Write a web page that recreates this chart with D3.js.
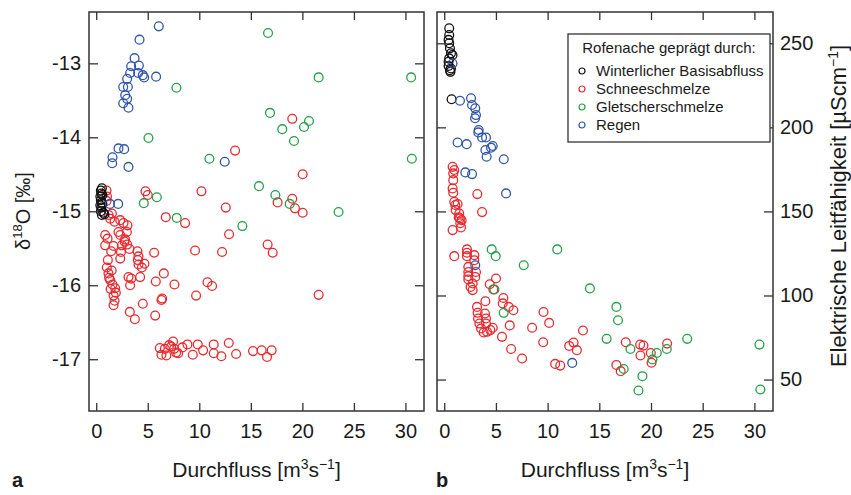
<!DOCTYPE html>
<html>
<head>
<meta charset="utf-8">
<script src="https://cdn.jsdelivr.net/npm/d3@7"></script>
<style>
  body { margin: 0; background: #fff; }
  text { font-family: "Liberation Sans", Arial, sans-serif; fill: #1a1a1a; }
</style>
</head>
<body>
<script>
// categories + colours
var categories = ["Winterlicher Basisabfluss", "Schneeschmelze", "Gletscherschmelze", "Regen"]
var catColors = ["#111111", "#e8292e", "#22a046", "#2f55a8"]

var xTicks = [0, 5, 10, 15, 20, 25, 30]
var d18oTicks = [-13, -14, -15, -16, -17]
var ecTicks = [50, 100, 150, 200, 250]

// panel a: [Durchfluss, d18O]
var baseA = [[0.45,-14.72],[0.55,-14.69],[0.5,-14.76],[0.4,-14.80],[0.6,-14.78],[0.45,-14.85],[0.55,-14.88],
  [0.4,-14.92],[0.5,-14.95],[0.6,-14.90],[0.45,-15.00],[0.7,-15.02],[0.8,-15.04],[0.55,-15.05]]
var snowA = [[19.02,-13.75],[13.47,-14.18],[20.03,-14.50],[4.78,-14.73],[5.0,-14.78],[10.21,-14.73],[12.57,-14.95],
  [17.6,-14.88],[19.02,-14.83],[19.28,-14.96],[20.03,-15.02],[6.75,-15.08],[8.62,-15.16],[12.89,-15.31],[16.63,-15.45],
  [17.12,-15.56],[9.59,-15.53],[12.21,-15.55],[5.62,-15.56],[6.56,-15.84],[5.78,-15.95],[7.59,-15.99],[10.79,-15.96],
  [11.24,-16.01],[9.69,-16.14],[21.58,-16.13],[6.40,-16.18],[6.33,-16.20],[4.52,-16.25],[3.26,-16.36],[3.75,-16.46],
  [5.72,-16.41],
  [6.17,-16.85],[6.33,-16.94],[6.66,-16.86],[6.81,-16.95],[7.07,-16.81],[7.27,-16.83],[7.46,-16.76],[7.56,-16.86],
  [7.75,-16.91],[7.95,-16.92],[8.36,-16.84],[8.85,-16.80],[9.37,-16.94],[9.85,-16.80],[10.37,-16.88],[11.40,-16.80],
  [11.40,-16.92],[12.14,-16.96],[12.86,-16.78],[13.57,-16.93],[15.21,-16.89],[16.05,-16.88],[16.57,-16.97],[17.02,-16.88],
  [1.0,-14.72],[1.05,-14.80],[1.0,-14.86],[1.52,-15.03],[1.36,-15.10],[1.78,-15.14],[2.33,-15.12],[2.65,-15.16],
  [3.03,-15.19],[2.16,-15.28],[2.97,-15.28],[0.87,-15.32],[1.1,-15.37],[2.33,-15.32],[2.8,-15.38],[0.87,-15.46],
  [1.68,-15.47],[1.45,-15.54],[2.49,-15.46],[2.75,-15.41],[3.23,-15.51],[2.33,-15.64],[4.0,-15.54],[4.10,-15.61],
  [4.04,-15.66],[4.68,-15.71],[4.43,-15.76],[1.13,-15.66],[1.03,-15.76],[1.19,-15.84],[1.36,-15.93],[1.58,-15.99],
  [1.84,-16.04],[1.68,-16.14],[1.78,-16.21],[1.68,-16.27],[3.13,-15.89],[3.39,-15.91],[3.29,-16.0],[4.26,-15.89],
  [3.0,-15.45],[2.4,-15.55],[1.2,-15.05],[1.5,-15.8],[1.9,-16.1],[1.4,-16.05],[4.1,-15.72],[1.25,-15.9]]
var glacierA = [[16.67,-12.59],[21.58,-13.19],[30.55,-13.19],[7.78,-13.33],[16.86,-13.67],[18.05,-13.89],[20.16,-13.86],
  [20.64,-13.78],[19.19,-14.05],[5.07,-14.01],[10.98,-14.29],[30.62,-14.29],[15.79,-14.66],[17.38,-14.78],[18.77,-14.90],
  [23.51,-15.01],[5.88,-14.81],[4.62,-14.89],[7.81,-15.09],[14.18,-15.20]]
var rainA = [[6.07,-12.50],[4.20,-12.68],[3.72,-12.93],[3.39,-13.04],[4.14,-13.03],[4.07,-13.13],[3.29,-13.13],
  [4.52,-13.16],[4.65,-13.19],[5.81,-13.18],[3.0,-13.21],[2.62,-13.32],[3.07,-13.32],[2.81,-13.43],[3.0,-13.48],
  [2.62,-13.54],[3.13,-13.60],[2.16,-14.15],[2.71,-14.16],[1.58,-14.27],[1.55,-14.35],[3.13,-14.40],[12.47,-14.33],
  [1.33,-14.90],[2.13,-14.90]]

// panel b: [Durchfluss, Leitfaehigkeit]
var baseB = [[0.48,258.9],[0.48,254.9],[0.42,252],[0.48,250],[0.55,247],[0.65,244],[0.8,243],[0.48,241],
  [0.42,239],[0.42,236.5],[0.65,235],[0.55,234],[0.6,233],[0.71,216.7]]
var snowB = [[0.81,176.5],[0.97,174.6],[0.87,172.6],[0.87,168.6],[0.81,163.7],[0.87,161.1],[0.97,155.7],[1.07,153.8],
  [1.29,154.4],[1.1,150.8],[1.45,148.8],[1.52,145.8],[1.68,144.8],[1.62,140.5],[0.81,138.9],[3.2,160.3],[3.66,149.6],
  [1.4,146.5],[1.55,143],
  [0.97,123.4],[2.2,127.4],[2.2,125.4],[2.2,123.4],[2.91,124],[2.91,121],[2.33,117],[2.33,114],[2.33,111.5],
  [2.33,109.5],[3.07,114],[3.0,111],[2.75,107.1],[2.55,105.1],[2.75,103.2],[4.4,106.7],[5.01,110.1],[4.75,103.6],
  [5.72,98.5],[5.66,95.3],[3.98,96.6],[6.24,93.2],[6.69,91.2],[3.17,93.2],[3.23,89.7],[3.27,86.3],[3.40,83.3],
  [3.56,80.4],[3.81,78],[4.14,78.4],[4.46,79.4],[4.69,80.8],[3.94,89.3],[4.04,86.3],[4.04,83.3],[6.34,82.2],
  [5.59,75.4],[6.47,68.2],[7.53,62.5],[8.5,80.8],[9.6,90.2],[10.15,83.7],[9.57,72.2],[10.73,59.3],[11.22,58.3],
  [13.42,79.2],[12.09,70],[12.51,72],[12.83,67.5],[16.65,58.7],[17.07,55],[17.56,72.2],[18.95,70.8],[19.27,70.2],
  [18.98,64.3],[19.98,65.8],[20.05,60],[21.56,71.4]]
var glacierB = [[4.59,127.4],[4.98,123.4],[10.93,127.4],[7.69,118],[14.09,104.2],[4.85,103.6],[5.75,89.7],[16.65,93.2],
  [16.81,85.3],[15.71,74.2],[18.01,68.2],[20.56,65.8],[21.53,68.2],[23.5,74.2],[20.14,61.9],[17.36,56.3],[19.17,52],
  [18.79,43.5],[30.49,70.8],[30.58,44.1]]
var rainB = [[0.8,238],[1.52,215.8],[2.59,217.3],[2.69,213.3],[3.0,211.3],[3.07,207.3],[2.98,205.4],[3.33,198.4],
  [3.3,197],[3.66,194],[4.04,194],[1.29,191],[2.17,190],[3.98,186.5],[4.53,187.9],[4.69,188.9],[4.1,182.5],[5.76,181],
  [2.04,173.2],[2.69,172.2],[5.98,160.7],[3.0,118],[12.38,59.9]]

var svg = d3.select("body").append("svg")
    .attr("width", 851)
    .attr("height", 495)

var top_y = 12, bottom_y = 411
var tickFont = 20, titleFont = 21

function drawPanel(left, right, yScale, yTicks, labelSide, series) {
    var x = d3.scaleLinear().domain([-0.7, 31.8]).range([left, right])
    var g = svg.append("g")

    // points: snow, glacier, base, rain
    series.forEach(function (s) {
        g.append("g").selectAll("circle")
            .data(s.data)
            .enter()
            .append("circle")
            .attr("cx", function (d) { return x(d[0]) })
            .attr("cy", function (d) { return yScale(d[1]) })
            .attr("r", 4.4)
            .attr("fill", "none")
            .attr("stroke", catColors[s.cat])
            .attr("stroke-width", 1.3)
    })

    var bottom = g.append("g").attr("transform", "translate(0," + bottom_y + ")")
        .call(d3.axisBottom(x).tickValues(xTicks).tickSize(-8).tickPadding(13))
    var topAx = g.append("g").attr("transform", "translate(0," + top_y + ")")
        .call(d3.axisTop(x).tickValues(xTicks).tickSize(-8).tickFormat(""))
    var lAx = g.append("g").attr("transform", "translate(" + left + ",0)")
        .call(d3.axisLeft(yScale).tickValues(yTicks).tickSize(-9).tickPadding(8)
            .tickFormat(labelSide == "left" ? d3.format("") : ""))
    var rAx = g.append("g").attr("transform", "translate(" + right + ",0)")
        .call(d3.axisRight(yScale).tickValues(yTicks).tickSize(-9).tickPadding(7)
            .tickFormat(labelSide == "right" ? d3.format("") : ""))

    ;[bottom, topAx, lAx, rAx].forEach(function (a) {
        a.select(".domain").remove()
        a.selectAll("line").attr("stroke", "#333").attr("stroke-width", 1.3)
        a.selectAll("text").attr("font-size", tickFont).attr("font-family", "Liberation Sans, Arial, sans-serif").attr("fill", "#1a1a1a")
    })
    // plain hyphen like the original labels
    lAx.selectAll("text").text(function (d) { return labelSide == "left" ? String(d).replace("\u2212", "-") : "" })

    g.append("rect")
        .attr("x", left).attr("y", top_y)
        .attr("width", right - left).attr("height", bottom_y - top_y)
        .attr("fill", "none").attr("stroke", "#333").attr("stroke-width", 1.5)

    // x title
    var xt = g.append("text").attr("x", (left + right) / 2).attr("y", 477)
        .attr("text-anchor", "middle").attr("font-size", titleFont)
    xt.append("tspan").text("Durchfluss [m")
    xt.append("tspan").attr("dy", -8).attr("font-size", 14).text("3")
    xt.append("tspan").attr("dy", 8).text("s")
    xt.append("tspan").attr("dy", -8).attr("font-size", 14).text("\u22121")
    xt.append("tspan").attr("dy", 8).text("]")
    return x
}

var yA = d3.scaleLinear().domain([-17.70, -12.306]).range([bottom_y, top_y])
var yB = d3.scaleLinear().domain([31.3, 268.6]).range([bottom_y, top_y])

drawPanel(89, 424, yA, d18oTicks, "left", [
    {cat: 1, data: snowA}, {cat: 2, data: glacierA}, {cat: 0, data: baseA}, {cat: 3, data: rainA}])
drawPanel(437, 773, yB, ecTicks, "right", [
    {cat: 1, data: snowB}, {cat: 2, data: glacierB}, {cat: 0, data: baseB}, {cat: 3, data: rainB}])

// y titles
var yt1 = svg.append("text").attr("transform", "translate(30,211) rotate(-90)")
    .attr("text-anchor", "middle").attr("font-size", 20)
yt1.append("tspan").text("\u03b4")
yt1.append("tspan").attr("dy", -8).attr("font-size", 13).text("18")
yt1.append("tspan").attr("dy", 8).text("O [\u2030]")

var yt2 = svg.append("text").attr("transform", "translate(846,206) rotate(-90)")
    .attr("text-anchor", "middle").attr("font-size", 22)
yt2.append("tspan").text("Elektrische Leitf\u00e4higkeit [\u00b5Scm")
yt2.append("tspan").attr("dy", -8).attr("font-size", 14).text("\u22121")
yt2.append("tspan").attr("dy", 8).text("]")

// panel letters
svg.append("text").attr("x", 12).attr("y", 487).attr("font-size", 20).attr("font-weight", "bold").text("a")
svg.append("text").attr("x", 436).attr("y", 487).attr("font-size", 20).attr("font-weight", "bold").text("b")

// legend
var leg = svg.append("g")
leg.append("rect").attr("x", 568).attr("y", 34).attr("width", 202).attr("height", 108)
    .attr("fill", "#fff").attr("stroke", "#333").attr("stroke-width", 1.3)
leg.append("text").attr("x", 669).attr("y", 53).attr("text-anchor", "middle").attr("font-size", 15)
    .text("Rofenache gepr\u00e4gt durch:")
var items = leg.selectAll("g.item").data(categories).enter().append("g")
    .attr("transform", function (d, i) { return "translate(0," + (71 + i * 18) + ")" })
items.append("circle").attr("cx", 582).attr("cy", 0).attr("r", 3)
    .attr("fill", "none").attr("stroke", function (d, i) { return catColors[i] }).attr("stroke-width", 1.2)
items.append("text").attr("x", 596).attr("y", 0).attr("dy", "0.35em").attr("font-size", 15)
    .text(function (d) { return d })
</script>
</body>
</html>
